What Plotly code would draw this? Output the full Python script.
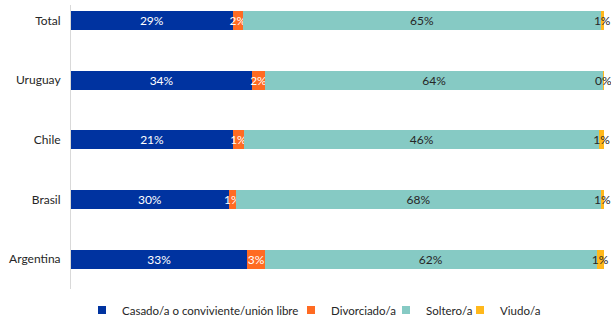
import plotly.graph_objects as go

categories = ["Total", "Uruguay", "Chile", "Brasil", "Argentina"]
series_names = ["Casado/a o conviviente/unión libre", "Divorciado/a", "Soltero/a", "Viudo/a"]
casado = [29.4, 34.0, 21.0, 29.6, 33.0]
divorciado = [1.9, 2.4, 1.4, 1.4, 3.3]
soltero = [65.0, 63.5, 46.0, 68.4, 62.0]
viudo = [0.6, 0.1, 0.6, 0.6, 1.4]
labels_casado = ["29%", "34%", "21%", "30%", "33%"]
labels_divorciado = ["2%", "2%", "1%", "1%", "3%"]
labels_soltero = ["65%", "64%", "46%", "68%", "62%"]
labels_viudo = ["1%", "0%", "1%", "1%", "1%"]

colors = ["#0033A0", "#FF6B22", "#86CAC4", "#FFB81C"]
text_colors = ["white", "white", "#262626", "#262626"]
values = [casado, divorciado, soltero, viudo]
labels = [labels_casado, labels_divorciado, labels_soltero, labels_viudo]

FONT = "Lato"
legend_ids = ["legend", "legend2", "legend3", "legend4"]
legend_x = [82, 291, 386, 460]  # left edge of each legend entry (pixels)

fig = go.Figure()
for name, vals, lab, col, tcol in zip(series_names, values, labels, colors, text_colors):
    fig.add_trace(go.Bar(
        y=categories, x=vals, name=name, orientation="h",
        marker=dict(color=col, line=dict(width=0)),
        text=lab, textposition="inside", insidetextanchor="middle",
        textangle=0, constraintext="none", cliponaxis=False,
        textfont=dict(color=tcol, size=12, family=FONT),
        hoverinfo="skip", showlegend=False,
    ))

# legend entries (small square markers like the reference)
for name, col, lid in zip(series_names, colors, legend_ids):
    fig.add_trace(go.Scatter(
        x=[None], y=[None], mode="markers", name=name,
        marker=dict(symbol="square", size=8, color=col),
        legend=lid, showlegend=True, hoverinfo="skip",
    ))

legend_common = dict(orientation="h", xref="container", yref="container",
                     xanchor="left", y=0.025, yanchor="middle",
                     font=dict(size=11.5, family=FONT, color="#262626"),
                     itemwidth=30, bgcolor="rgba(0,0,0,0)")

layout_legends = {}
for lid, lx in zip(legend_ids, legend_x):
    layout_legends[lid] = dict(legend_common, x=lx / 611)

fig.update_layout(
    barmode="stack", barnorm="percent", bargap=0.68,
    width=611, height=318,
    margin=dict(l=71, r=7, t=5, b=29, autoexpand=False),
    plot_bgcolor="white", paper_bgcolor="white",
    font=dict(family=FONT, size=12, color="#262626"),
    showlegend=True,
    xaxis=dict(range=[0, 100], visible=False, showgrid=False, zeroline=False),
    yaxis=dict(range=[4.5, -0.26], showline=True, linecolor="#D9D9D9", linewidth=1,
               showgrid=False, zeroline=False, ticks="", ticklabelstandoff=7,
               automargin=False,
               tickfont=dict(size=12, family=FONT, color="#262626")),
    **layout_legends,
)

fig.write_html("out.html", post_script="document.body.style.margin='0';",
               config={"displayModeBar": False})
